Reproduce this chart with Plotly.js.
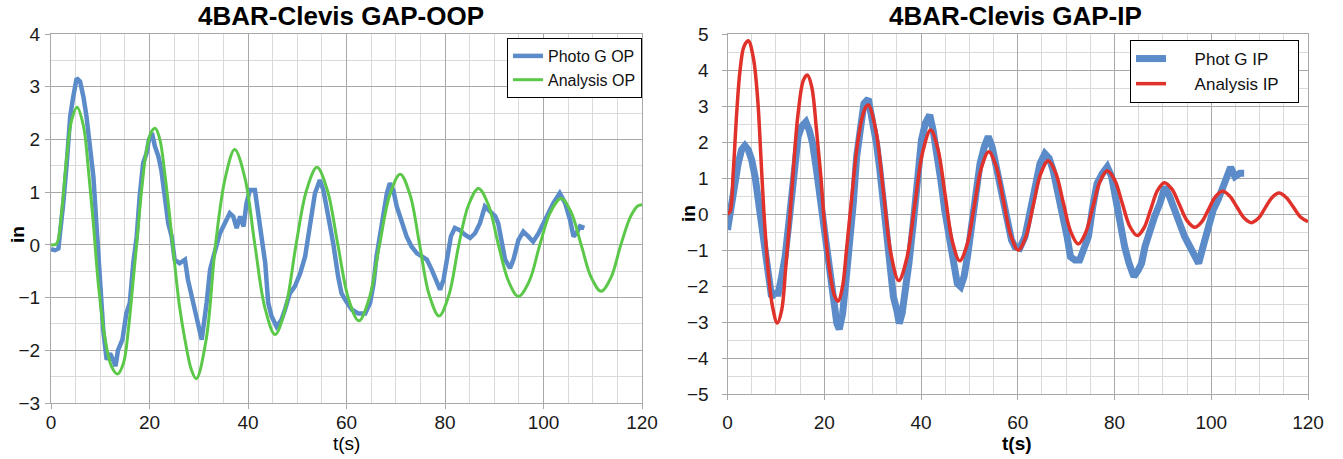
<!DOCTYPE html>
<html>
<head>
<meta charset="utf-8">
<script src="https://cdn.plot.ly/plotly-3.0.1.min.js"></script>
<style>
html,body{margin:0;padding:0;background:#fff;}
#chart{width:1343px;height:459px;}
</style>
</head>
<body>
<div id="chart"></div>
<script>
// ---------- data (t in s, displacement in in) ----------
const opPhoto = [[0,-0.08],[0.8,-0.1],[1.5,-0.07],[1.8,0.16],[2.5,0.8],[3.2,1.55],[3.9,2.44],[4.5,2.8],[5.2,3.16],[5.9,3.1],[6.6,2.8],[7.2,2.44],[7.9,1.93],[8.6,1.3],[9.3,0.28],[9.9,-0.73],[10.6,-1.61],[11.3,-2.18],[12,-2.06],[12.6,-2.18],[13.1,-2.3],[13.6,-2.0],[14.5,-1.8],[15.3,-1.3],[16,-1.1],[16.7,-0.35],[17.4,0.16],[18,0.92],[18.7,1.55],[19.4,1.74],[19.9,2.0],[20.5,2.12],[21.1,1.87],[21.8,1.68],[22.4,1.42],[23.1,0.92],[23.8,0.41],[24.5,0.16],[25.1,-0.28],[26.1,-0.35],[27.2,-0.28],[27.8,-0.66],[28.9,-1.1],[29.9,-1.49],[30.6,-1.8],[31.6,-1.1],[32.3,-0.47],[33,-0.22],[33.6,-0.03],[34.3,0.22],[35.3,0.41],[36.3,0.6],[37,0.54],[37.7,0.32],[38.4,0.54],[39.1,0.35],[39.7,0.79],[40.4,1.04],[41.4,1.04],[42.1,0.54],[42.8,0.16],[43.5,-0.35],[44.1,-1.1],[44.8,-1.36],[45.8,-1.55],[46.8,-1.42],[47.5,-1.23],[48.5,-0.92],[49.5,-0.79],[50.6,-0.54],[51.6,-0.22],[52.6,0.41],[53.6,0.98],[54.6,1.23],[55.3,1.04],[56.3,0.54],[57.3,0.03],[58.3,-0.6],[59,-0.92],[60,-1.08],[61.1,-1.23],[62.4,-1.3],[63.8,-1.3],[64.8,-1.1],[65.5,-0.73],[66.1,-0.22],[66.8,0.22],[67.5,0.66],[68.2,0.98],[68.8,1.17],[69.5,1.04],[70.2,0.73],[71.2,0.41],[72.2,0.16],[73.2,-0.03],[74.3,-0.16],[75.3,-0.22],[76.3,-0.28],[77.3,-0.47],[78.3,-0.73],[79,-0.85],[79.7,-0.66],[80.3,-0.28],[81.2,0.16],[82,0.32],[83,0.28],[84.1,0.19],[85.1,0.13],[86.1,0.22],[87.1,0.41],[88.1,0.73],[89.1,0.63],[90.2,0.54],[90.8,0.41],[91.5,0.03],[92.2,-0.28],[93.2,-0.44],[93.9,-0.28],[94.9,0.09],[95.9,0.25],[96.9,0.16],[97.9,0.06],[99,0.22],[100,0.41],[101,0.6],[102,0.79],[103.3,0.98],[104.4,0.79],[105.4,0.47],[106.1,0.16],[106.7,0.22],[107.4,0.35],[108.3,0.32]];

const opAnalysis = [[0,0],[1.1,0.02],[2.2,0.66],[3.2,1.68],[4.2,2.37],[5.3,2.61],[6.6,2.25],[7.6,1.42],[8.6,0.41],[9.6,-0.73],[10.9,-1.74],[12.3,-2.31],[13.5,-2.45],[14.7,-2.25],[15.7,-1.61],[16.7,-0.66],[17.4,0.03],[18.4,1.04],[19.4,1.8],[20.4,2.15],[21.2,2.21],[22.1,2.0],[23.1,1.36],[24.1,0.54],[25.1,-0.35],[26.1,-1.17],[27.2,-1.8],[28.5,-2.37],[29.5,-2.54],[31.5,-1.8],[33.4,0],[35.4,1.28],[37.3,1.81],[39.35,1.28],[41.4,0],[43.45,-1.2],[45.5,-1.7],[47.6,-1.2],[49.75,0],[51.9,1.04],[54.0,1.47],[56.1,1.04],[58.25,0],[60.4,-1.02],[62.5,-1.44],[64.6,-1.02],[66.7,0],[68.8,0.95],[70.9,1.34],[72.9,0.95],[74.85,0],[76.8,-0.95],[78.8,-1.35],[80.8,-0.95],[82.8,0],[84.8,0.76],[86.8,1.07],[88.8,0.76],[90.85,0],[92.9,-0.69],[94.9,-0.98],[97.1,-0.69],[99.25,0],[101.4,0.62],[103.6,0.88],[105.6,0.62],[107.65,0],[109.7,-0.62],[111.7,-0.88],[113.7,-0.62],[115.7,0],[117.7,0.54],[119.2,0.74],[120,0.76]];

const ipPhoto = [[0,-0.44],[0.4,-0.07],[0.9,0.48],[1.5,0.94],[2.2,1.4],[2.9,1.78],[3.6,1.9],[4.3,1.78],[5,1.5],[5.7,1.04],[6.4,0.3],[7.1,-0.44],[7.7,-1.19],[8.4,-1.93],[9.1,-2.3],[9.8,-2.2],[10.5,-2.2],[11.2,-1.74],[11.9,-1.19],[12.6,-0.35],[13.3,0.57],[13.9,1.4],[14.6,2.15],[15.3,2.43],[16.2,2.56],[16.9,2.33],[17.6,1.96],[18.4,1.22],[19.1,0.48],[19.8,-0.26],[20.5,-1.19],[21.2,-1.93],[21.9,-2.67],[22.6,-3.04],[23.1,-3.2],[23.8,-2.76],[24.5,-1.83],[25.3,-0.81],[26,0.3],[26.7,1.6],[27.4,2.33],[28.2,3.07],[29.1,3.2],[29.9,2.7],[30.8,1.96],[31.5,1.22],[32.2,0.3],[32.9,-0.63],[33.6,-1.56],[34.3,-2.3],[35,-2.67],[35.5,-3.04],[36.1,-2.76],[36.8,-2.11],[37.5,-1.37],[38.4,-0.26],[39.3,1.04],[40.1,2.06],[40.9,2.52],[41.8,2.75],[42.5,2.33],[43.2,1.78],[44.1,0.94],[44.9,0.11],[45.8,-0.63],[46.7,-1.37],[47.5,-1.93],[48.2,-2.02],[48.9,-1.74],[49.6,-1.19],[50.4,-0.44],[51.3,0.48],[52.2,1.4],[53.1,1.87],[53.9,2.15],[54.7,1.87],[55.6,1.31],[56.6,0.67],[57.7,-0.07],[58.7,-0.72],[59.4,-0.91],[60.4,-0.95],[61.5,-0.63],[62.5,0.11],[63.5,0.85],[64.6,1.4],[65.6,1.68],[66.5,1.55],[67.3,1.22],[68.4,0.57],[69.4,-0.07],[70.2,-0.63],[70.9,-1.19],[71.8,-1.28],[72.8,-1.28],[73.7,-1.0],[74.6,-0.63],[75.5,0.2],[76.4,0.85],[77.5,1.13],[78.5,1.31],[79.4,1.04],[80.3,0.3],[81.2,-0.35],[82.1,-0.91],[83,-1.37],[84,-1.74],[84.9,-1.56],[85.6,-1.37],[86.3,-0.91],[87.3,-0.44],[88.3,-0.07],[89.4,0.3],[90.4,0.76],[91.4,0.48],[92.5,0.11],[93.5,-0.35],[94.5,-0.63],[95.6,-0.91],[96.6,-1.19],[97.4,-1.37],[98.3,-0.91],[99.3,-0.35],[100.4,0.11],[101.4,0.39],[102.4,0.76],[103.1,1.04],[104,1.3],[104.9,1.04],[105.9,1.13],[106.8,1.13]];

const ipAnalysis = [[0,0],[0.5,0.06],[1.2,1.2],[1.9,2.8],[2.6,4.0],[3.4,4.65],[4.3,4.81],[5.3,4.37],[6.2,3.26],[6.9,1.6],[7.5,0.11],[8.4,-1.56],[9.3,-2.57],[10.3,-3.03],[11.2,-2.67],[12,-1.56],[12.8,-0.26],[13.6,1.22],[14.6,2.8],[15.7,3.72],[16.5,3.86],[17.4,3.54],[18.4,2.33],[19.3,1.04],[20.1,-0.35],[21.2,-1.65],[22.2,-2.3],[22.9,-2.42],[23.8,-2.0],[24.6,-1.0],[25.7,0.48],[26.7,1.78],[27.7,2.6],[28.5,2.95],[29.1,3.03],[30.675,2.315],[32.25,0.59],[33.825,-1.135],[35.4,-1.85],[37.05,-1.24],[38.7,0.24],[40.35,1.72],[42.0,2.33],[43.5,1.8],[45.0,0.515],[46.5,-0.77],[48.0,-1.3],[49.5,-0.86],[51.0,0.215],[52.5,1.29],[54.0,1.73],[55.525,1.33],[57.05,0.365],[58.575,-0.6],[60.1,-1.0],[61.65,-0.64],[63.2,0.24],[64.75,1.12],[66.3,1.48],[67.85,1.14],[69.4,0.325],[70.95,-0.49],[72.5,-0.83],[74.0,-0.53],[75.5,0.185],[77.0,0.9],[78.5,1.2],[80.05,0.94],[81.6,0.3],[83.15,-0.34],[84.7,-0.6],[86.1,-0.385],[87.5,0.135],[88.9,0.655],[90.3,0.87],[91.875,0.69],[93.45,0.25],[95.025,-0.19],[96.6,-0.37],[98.025,-0.22],[99.45,0.13],[100.875,0.48],[102.3,0.63],[103.8,0.5],[105.3,0.195],[106.8,-0.11],[108.3,-0.24],[109.725,-0.12],[111.15,0.17],[112.575,0.46],[114.0,0.58],[115.5,0.46],[117.0,0.185],[118.5,-0.09],[120,-0.21]];

const seriesNames = ['Photo G OP','Analysis OP','Phot G IP','Analysis IP'];
const chartTitles = ['4BAR-Clevis GAP-OOP','4BAR-Clevis GAP-IP'];
const xTitle = 't(s)';
const yTitle = 'in';

// ---------- drawing ----------
const W = 1343, H = 459;
const px = v => v / W;
const py = v => 1 - v / H;
const xs = a => a.map(p => p[0]);
const ys = a => a.map(p => p[1]);
const pad = (s, l, r) => '\u00a0'.repeat(l) + s + '\u00a0'.repeat(r);

const BLUE = '#5b8bc8', GREEN = '#5cc84a', RED = '#e0312a';
const FONT = 'Liberation Sans, Arial, sans-serif';
const MAJ = '#a8a8a8', MIN = '#dadada';

const traces = [
  {x: xs(opPhoto), y: ys(opPhoto), name: seriesNames[0], type: 'scatter', mode: 'lines',
   line: {color: BLUE, width: 4.5}, xaxis: 'x', yaxis: 'y', legend: 'legend'},
  {x: xs(opAnalysis), y: ys(opAnalysis), name: seriesNames[1], type: 'scatter', mode: 'lines',
   line: {color: GREEN, width: 3, shape: 'spline', smoothing: 1}, xaxis: 'x', yaxis: 'y', legend: 'legend'},
  {x: xs(ipPhoto), y: ys(ipPhoto), name: pad(seriesNames[2], 5, 3), type: 'scatter', mode: 'lines',
   line: {color: BLUE, width: 7}, xaxis: 'x2', yaxis: 'y2', legend: 'legend2'},
  {x: xs(ipAnalysis), y: ys(ipAnalysis), name: pad(seriesNames[3], 5, 3), type: 'scatter', mode: 'lines',
   line: {color: RED, width: 3.5, shape: 'spline', smoothing: 1}, xaxis: 'x2', yaxis: 'y2', legend: 'legend2'}
];

function xAxis(domain, anchor, standoff) {
  return {domain: domain, anchor: anchor, range: [0, 120], tick0: 0, dtick: 20,
    showgrid: true, gridcolor: MAJ, gridwidth: 1, zeroline: false,
    minor: {dtick: 5, showgrid: true, gridcolor: MIN, gridwidth: 1},
    showline: true, linecolor: MAJ, linewidth: 1, mirror: true,
    ticks: 'outside', ticklen: 5, tickcolor: MAJ, ticklabelstandoff: standoff,
    tickfont: {family: FONT, size: 19, color: '#1a1a1a'}, fixedrange: true};
}
function yAxis(domain, anchor, r, standoff) {
  return {domain: domain, anchor: anchor, range: r, tick0: 0, dtick: 1,
    showgrid: true, gridcolor: MAJ, gridwidth: 1, zeroline: false,
    minor: {dtick: 0.5, showgrid: true, gridcolor: MIN, gridwidth: 1},
    showline: true, linecolor: MAJ, linewidth: 1, mirror: true,
    ticks: 'outside', ticklen: 5, tickcolor: MAJ, ticklabelstandoff: standoff,
    tickfont: {family: FONT, size: 19, color: '#1a1a1a'}, fixedrange: true};
}

const ann = (text, x, y, size, bold, angle) => ({
  text: text, xref: 'paper', yref: 'paper', x: px(x), y: py(y),
  xanchor: 'center', yanchor: 'middle', showarrow: false, textangle: angle || 0,
  font: {family: FONT, size: size, color: '#000', weight: bold ? 'bold' : 'normal'}
});

const layout = {
  width: W, height: H,
  margin: {l: 0, r: 0, t: 0, b: 0},
  paper_bgcolor: '#fff', plot_bgcolor: '#fff',
  font: {family: FONT},
  xaxis: xAxis([px(51), px(642)], 'y', -3),
  yaxis: yAxis([1 - 403 / H, 1 - 34 / H], 'x', [-3, 4], 1),
  xaxis2: xAxis([px(727.5), px(1308)], 'y2', 6),
  yaxis2: yAxis([1 - 394 / H, 1 - 34 / H], 'x2', [-5, 5], 9),
  legend: {x: px(642), y: py(38), xanchor: 'right', yanchor: 'top',
    bgcolor: '#fff', bordercolor: '#000', borderwidth: 1,
    font: {family: FONT, size: 16, color: '#111'}},
  legend2: {x: px(1299), y: py(40), xanchor: 'right', yanchor: 'top',
    bgcolor: '#fff', bordercolor: '#000', borderwidth: 1,
    font: {family: FONT, size: 17, color: '#111'}},
  showlegend: true,
  annotations: [
    ann(chartTitles[0], 341, 16, 26, true),
    ann(chartTitles[1], 1015, 16, 26, true),
    ann(xTitle, 346, 443, 19, false),
    ann(xTitle, 1017, 443, 19, true),
    ann(yTitle, 17, 235, 19, true, -90),
    ann(yTitle, 688, 213, 19, true, -90)
  ]
};

Plotly.newPlot('chart', traces, layout, {staticPlot: true, displayModeBar: false});
</script>
</body>
</html>
